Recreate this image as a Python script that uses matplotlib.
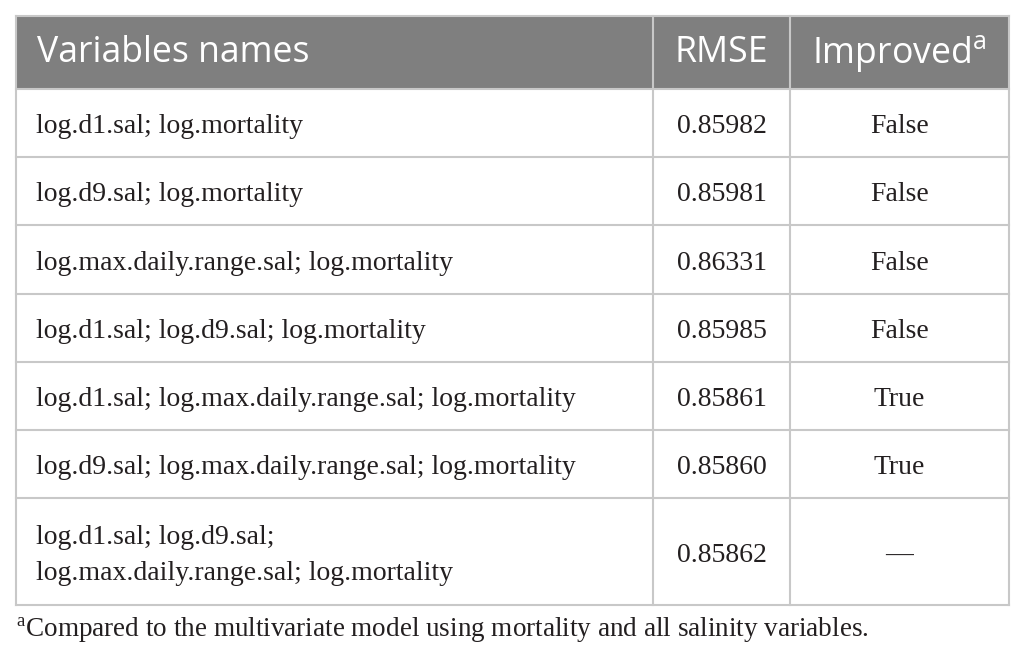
import matplotlib
matplotlib.use("Agg")
import matplotlib.pyplot as plt
from matplotlib.patches import Rectangle

# Table content
header = ["Variables names", "RMSE", "Improved"]
variables = [
    "log.d1.sal; log.mortality",
    "log.d9.sal; log.mortality",
    "log.max.daily.range.sal; log.mortality",
    "log.d1.sal; log.d9.sal; log.mortality",
    "log.d1.sal; log.max.daily.range.sal; log.mortality",
    "log.d9.sal; log.max.daily.range.sal; log.mortality",
    "log.d1.sal; log.d9.sal;\nlog.max.daily.range.sal; log.mortality",
]
rmse = ["0.85982", "0.85981", "0.86331", "0.85985", "0.85861", "0.85860", "0.85862"]
improved = ["False", "False", "False", "False", "True", "True", "\u2014"]
footnote = "Compared to the multivariate model using mortality and all salinity variables."

W, H = 1025, 662
fig = plt.figure(figsize=(W / 100, H / 100), dpi=100)
ax = fig.add_axes([0, 0, 1, 1])
ax.set_xlim(0, W)
ax.set_ylim(H, 0)
ax.axis("off")

left, right = 16, 1009
col_x = [left, 653, 790, right]
header_top, header_bot = 16, 89
row_h = 68.2
row_heights = [row_h] * 6 + [107]
line_col = "#c8c8c8"
txt_col = "#231f20"
serif = ["Liberation Serif", "DejaVu Serif"]
sans = ["Open Sans", "DejaVu Sans"]
body_fs = 20
head_fs = 25.7

# header band
ax.add_patch(Rectangle((left, header_top), right - left, header_bot - header_top,
                       facecolor="#7f7f7f", edgecolor="none"))
hy = 62.5
ax.text(37, hy, header[0], color="white", fontsize=head_fs, family=sans,
        va="baseline", ha="left")
ax.text((col_x[1] + col_x[2]) / 2, hy, header[1], color="white", fontsize=head_fs,
        family=sans, va="baseline", ha="center")
ax.text((col_x[2] + col_x[3]) / 2, hy, header[2] + "$^{\\mathregular{a}}$",
        color="white", fontsize=head_fs, family=sans, va="baseline", ha="center")

# body rows
y = header_bot
row_lines = [y]
for name, r, imp, h in zip(variables, rmse, improved, row_heights):
    base = y + h / 2 + 10
    parts = name.split("\n")
    n = len(parts)
    for i, part in enumerate(parts):
        ax.text(36, base + (i - (n - 1) / 2) * 36, part, fontsize=body_fs,
                family=serif, va="baseline", ha="left", color=txt_col)
    ax.text((col_x[1] + col_x[2]) / 2, base, r, fontsize=body_fs, family=serif,
            va="baseline", ha="center", color=txt_col)
    ax.text((col_x[2] + col_x[3]) / 2, base, imp, fontsize=body_fs, family=serif,
            va="baseline", ha="center", color=txt_col)
    y += h
    row_lines.append(y)

bottom = row_lines[-1]
for yy in row_lines:
    ax.plot([left, right], [yy, yy], color=line_col, lw=1.5)
ax.plot([left, right], [header_top, header_top], color=line_col, lw=1.5)
for xx in col_x:
    ax.plot([xx, xx], [header_top, bottom], color=line_col, lw=1.5)

# footnote
ax.text(16, 637, "$^{\\mathregular{a}}$" + footnote, fontsize=19.5, family=serif,
        va="baseline", ha="left", color=txt_col)

fig.savefig("out.png", dpi=100)
